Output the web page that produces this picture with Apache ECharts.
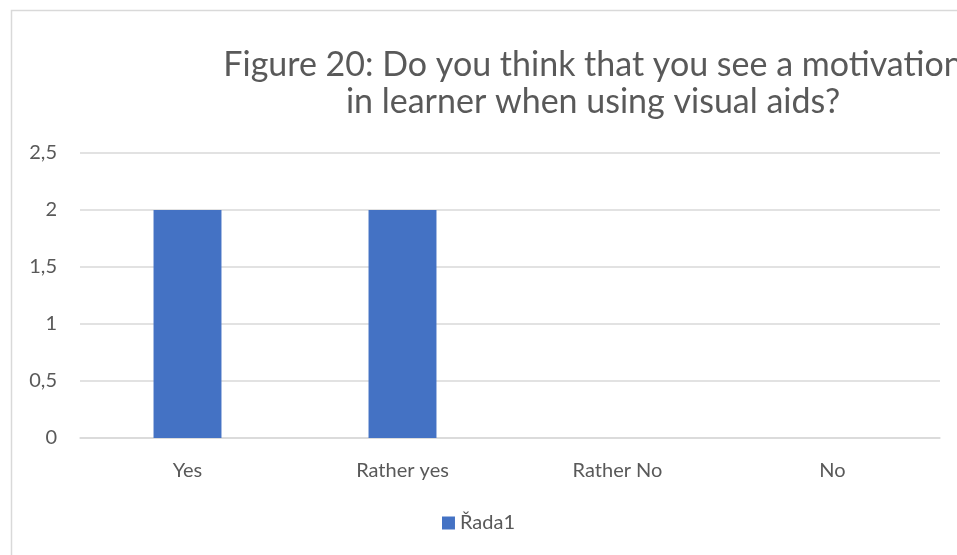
<!DOCTYPE html>
<html><head><meta charset="utf-8">
<script src="https://cdn.jsdelivr.net/npm/echarts@6/dist/echarts.min.js"></script>
<style>html,body{margin:0;padding:0;background:#fff}#c{width:957px;height:555px}</style>
</head><body><div id="c"></div>
<script>
const categories = ['Yes', 'Rather yes', 'Rather No', 'No'];
const values = [2, 2, 0, 0];
const seriesName = 'Řada1';
const titleText = 'Figure 20: Do you think that you see a motivation\nin learner when using visual aids?';
const yTicks = { min: 0, max: 2.5, interval: 0.5 };

const chart = echarts.init(document.getElementById('c'), null, { renderer: 'canvas' });
const font = 'Lato, "Open Sans", sans-serif';
chart.setOption({
  animation: false,
  backgroundColor: '#fff',
  graphic: [{
    type: 'rect', left: 9, top: 8, silent: true,
    shape: { width: 1000, height: 600 },
    style: { fill: 'none', stroke: '#d9d9d9', lineWidth: 1.5 }
  }],
  title: {
    text: titleText,
    left: 588, top: 42, textAlign: 'center',
    textStyle: { fontFamily: font, fontWeight: 'normal', fontSize: 34, color: '#595959', lineHeight: 37 }
  },
  legend: {
    data: [seriesName], bottom: 17, left: 'center',
    itemWidth: 13, itemHeight: 13, icon: 'rect', itemGap: 8,
    textStyle: { fontFamily: font, fontSize: 20, color: '#595959' }
  },
  grid: { left: 80, right: 17, top: 153, bottom: 117, containLabel: false },
  xAxis: {
    type: 'category', data: categories,
    axisLine: { lineStyle: { color: '#d9d9d9', width: 1.5 } },
    axisTick: { show: false },
    axisLabel: { fontFamily: font, fontSize: 20, color: '#595959', margin: 23 }
  },
  yAxis: {
    type: 'value', min: yTicks.min, max: yTicks.max, interval: yTicks.interval,
    axisLine: { show: false }, axisTick: { show: false },
    splitLine: { lineStyle: { color: '#d9d9d9', width: 1.5 } },
    axisLabel: { fontFamily: font, fontSize: 20, color: '#595959', margin: 23,
      formatter: v => String(v).replace('.', ',') }
  },
  series: [{
    name: seriesName, type: 'bar', data: values, barWidth: '31.6%',
    itemStyle: { color: '#4472c4' }
  }]
});
</script></body></html>
